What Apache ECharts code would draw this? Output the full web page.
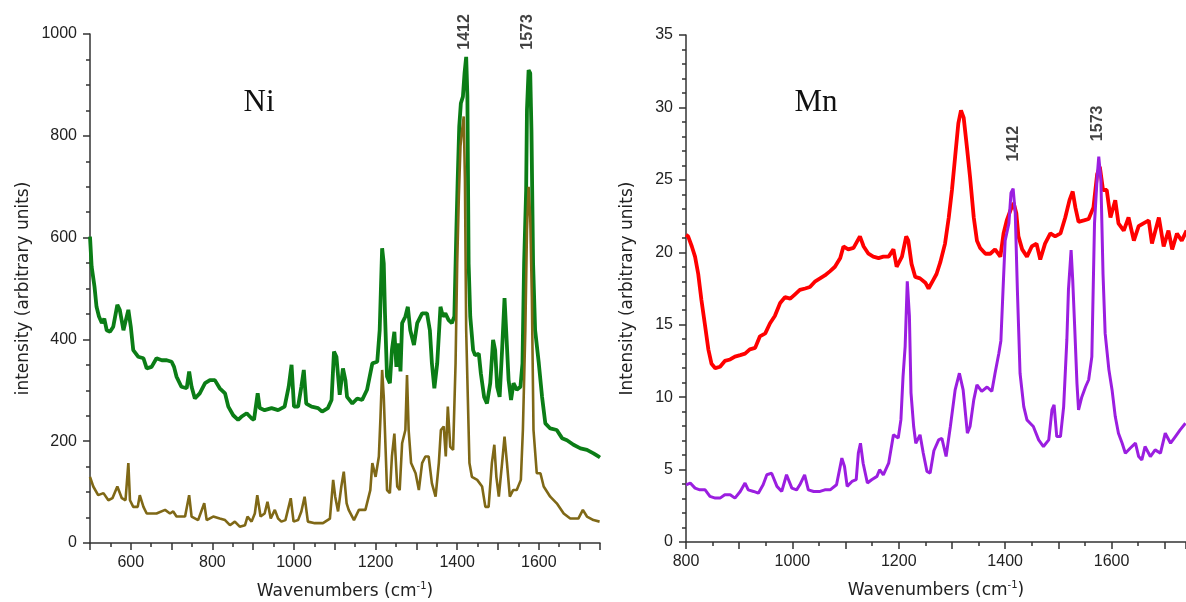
<!DOCTYPE html>
<html><head><meta charset="utf-8">
<script src="https://cdn.jsdelivr.net/npm/echarts@6/dist/echarts.min.js"></script>
<style>html,body{margin:0;padding:0;background:#fff}#c{width:1186px;height:602px}</style>
</head><body><div id="c"></div>
<script>
// ---- Ni panel (wavenumber, intensity) ----
const niUpperWn = [500,504,511,516,522,529,535,541,549,557,567,573,582,587,594,600,606,618,631,639,651,663,676,688,700,706,712,724,737,743,749,757,769,782,794,806,818,831,839,851,863,871,884,896,902,911,916,928,945,961,977,987,994,1000,1010,1018,1024,1030,1043,1059,1069,1083,1092,1098,1104,1112,1120,1126,1130,1143,1155,1167,1179,1192,1204,1210,1216,1220,1223,1228,1235,1240,1246,1251,1257,1261,1265,1273,1279,1285,1294,1302,1314,1326,1333,1338,1344,1351,1359,1365,1371,1379,1387,1393,1398,1401,1405,1409,1414,1418,1422,1425,1428,1432,1439,1444,1453,1458,1466,1473,1481,1488,1493,1498,1504,1510,1516,1520,1526,1532,1538,1546,1555,1560,1564,1569,1571,1575,1579,1582,1586,1591,1600,1608,1616,1628,1644,1657,1669,1685,1702,1718,1734,1746,1750];
const niUpperI = [602,543,504,464,445,432,441,418,415,425,468,458,418,435,458,425,379,366,363,343,346,363,359,359,356,346,327,307,304,337,307,284,294,314,320,320,304,294,268,251,242,248,255,245,242,294,265,261,265,261,268,307,350,268,268,307,340,274,268,265,258,265,281,376,366,291,343,320,287,274,284,281,301,353,356,418,579,549,451,327,314,379,415,346,392,337,432,445,464,418,389,432,451,451,418,353,304,353,464,445,451,438,432,445,615,707,818,864,877,923,955,877,549,445,379,369,372,333,287,274,314,399,379,307,287,379,481,418,320,281,314,301,307,353,549,693,851,929,923,811,549,418,353,287,235,225,222,206,202,193,186,183,176,170,168];
const niLowerWn = [500,508,520,533,545,555,567,578,587,594,598,606,617,622,631,639,663,684,696,704,712,733,743,749,765,780,786,802,818,831,843,855,867,880,886,896,904,910,918,928,935,943,953,961,969,979,992,999,1010,1018,1026,1034,1051,1071,1088,1096,1101,1108,1116,1122,1125,1129,1134,1147,1159,1175,1187,1192,1200,1208,1212,1216,1220,1228,1235,1240,1246,1253,1259,1265,1273,1277,1281,1287,1298,1306,1314,1322,1330,1338,1347,1355,1360,1367,1372,1377,1383,1390,1396,1400,1404,1408,1412,1416,1419,1422,1426,1430,1436,1449,1461,1469,1477,1485,1491,1496,1502,1510,1516,1522,1529,1537,1546,1556,1561,1567,1571,1575,1579,1583,1587,1595,1604,1612,1628,1644,1661,1677,1697,1708,1718,1734,1749];
const niLowerI = [130,111,94,98,84,88,111,88,84,157,84,71,71,94,71,58,58,65,58,62,52,52,94,52,45,78,45,52,48,45,35,42,32,35,52,42,58,94,52,58,81,48,65,48,42,45,88,42,45,62,91,42,39,39,48,124,91,62,111,140,143,78,65,45,65,65,104,157,130,170,248,340,287,104,98,170,215,111,104,196,222,330,222,157,137,104,157,170,170,117,91,157,222,229,170,268,189,183,353,549,680,779,811,838,713,418,287,157,130,124,111,71,71,157,193,130,91,157,209,157,91,104,104,124,222,418,615,700,641,484,222,137,137,111,91,78,58,48,48,65,52,45,42];

// ---- Mn panel ----
const mnUpperWn = [800,804,811,817,823,829,836,842,848,855,864,873,883,892,902,911,920,930,939,949,958,967,977,986,996,1005,1014,1024,1033,1043,1052,1061,1071,1080,1090,1096,1105,1115,1121,1127,1134,1143,1152,1162,1171,1181,1190,1196,1206,1214,1218,1224,1231,1240,1250,1256,1265,1271,1278,1287,1294,1300,1306,1312,1317,1322,1328,1334,1341,1347,1353,1363,1372,1381,1391,1397,1403,1410,1416,1421,1425,1432,1441,1450,1459,1466,1475,1485,1494,1504,1513,1521,1527,1532,1538,1548,1557,1566,1573,1578,1584,1591,1598,1607,1613,1623,1632,1642,1651,1660,1670,1676,1689,1698,1707,1714,1723,1732,1741];
const mnUpperI = [21.2,21.1,20.4,19.7,18.5,16.7,14.9,13.3,12.3,12.0,12.1,12.5,12.6,12.8,12.9,13.0,13.3,13.4,14.2,14.4,15.1,15.6,16.5,16.9,16.8,17.1,17.4,17.5,17.6,18.0,18.2,18.4,18.7,19.0,19.6,20.4,20.2,20.3,20.7,21.1,20.4,19.9,19.7,19.6,19.7,19.7,20.2,19.0,19.7,21.1,20.8,19.2,18.3,18.2,17.9,17.5,18.1,18.5,19.3,20.6,22.4,24.3,26.6,28.9,29.8,29.3,27.3,25.2,22.4,20.8,20.3,19.9,19.9,20.2,19.7,21.3,22.2,22.9,23.4,22.7,21.1,20.2,19.7,20.4,20.6,19.5,20.6,21.3,21.1,21.3,22.4,23.6,24.2,23.1,22.1,22.2,22.3,23.1,25.4,25.9,24.3,24.3,22.4,23.6,22.0,21.5,22.4,20.8,21.8,22.0,22.2,20.6,22.4,20.4,21.5,20.2,21.3,20.8,21.5];
const mnLowerWn = [800,808,817,826,836,845,855,864,873,883,892,902,911,917,927,936,945,952,961,971,980,989,999,1008,1014,1023,1030,1040,1052,1061,1071,1083,1093,1098,1103,1112,1120,1124,1128,1133,1141,1149,1159,1164,1171,1181,1190,1199,1204,1208,1212,1216,1220,1223,1228,1232,1240,1246,1253,1259,1266,1275,1281,1289,1297,1306,1314,1321,1329,1334,1341,1347,1356,1366,1375,1381,1388,1392,1396,1400,1407,1411,1415,1419,1423,1428,1435,1441,1447,1453,1463,1472,1482,1488,1492,1497,1504,1510,1516,1519,1524,1527,1531,1535,1538,1544,1551,1557,1563,1568,1573,1576,1580,1584,1588,1595,1601,1607,1613,1620,1626,1635,1645,1651,1657,1663,1673,1682,1692,1701,1711,1720,1729,1739];
const mnLowerI = [3.95,4.07,3.72,3.6,3.6,3.15,3.03,3.03,3.26,3.26,3.03,3.49,4.07,3.6,3.49,3.37,3.95,4.64,4.75,3.84,3.49,4.64,3.72,3.6,3.95,4.64,3.6,3.49,3.49,3.6,3.6,3.95,5.79,5.21,3.84,4.18,4.3,6.14,6.82,5.44,4.07,4.3,4.53,4.99,4.64,5.44,7.4,7.17,8.43,11.4,13.5,18.0,15.6,10.3,7.97,6.82,7.4,6.14,4.87,4.76,6.3,7.05,7.16,5.9,7.97,10.5,11.65,10.5,7.51,7.97,9.81,10.85,10.4,10.7,10.4,11.65,13.0,13.9,17.4,20.8,22.0,24.1,24.4,22.7,17.4,11.65,9.35,8.43,8.2,7.97,7.05,6.59,7.05,9.12,9.47,7.28,7.28,9.35,13.95,17.4,20.15,18.1,14.6,10.95,9.12,10.0,10.7,11.2,12.8,22.0,25.2,26.6,25.0,18.5,14.4,11.9,10.5,8.66,7.51,6.82,6.13,6.47,6.82,5.9,5.67,6.59,5.9,6.36,6.13,7.51,6.82,7.28,7.74,8.2];

// ---- peak annotations (text, anchor wavenumber, anchor intensity) ----
const peakNames = ['1412', '1573'];
const niPeakWn = [1418.6, 1573];
const niPeakI = [1004, 1004];
const mnPeakWn = [1415, 1573];
const mnPeakI = [27.5, 28.9];

// ---- axis ranges / ticks ----
const niXRange = [500, 1750], niYRange = [0, 1000];
const mnXRange = [800, 1740], mnYRange = [0, 35];

function pairs(x, y) { return x.map((v, i) => [v, y[i]]); }
function peakData(x, y) { return peakNames.map((n, i) => ({ name: n, value: [x[i], y[i]] })); }

const SANS = '"Liberation Sans", Arial, sans-serif';
const NAMEFONT = '"DejaVu Sans", sans-serif';
const axisColor = '#333';
const lineSt = { color: axisColor, width: 1.5 };
const tickLbl = { fontFamily: SANS, fontSize: 16, color: '#222' };
const xName = '{a|Wavenumbers (cm}{s|-1}{a|)}';
const xNameStyle = {
  rich: {
    a: { fontFamily: NAMEFONT, fontSize: 17, color: '#222', lineHeight: 22 },
    s: { fontFamily: NAMEFONT, fontSize: 10, color: '#222', lineHeight: 10, verticalAlign: 'top' }
  }
};

function xAxis(grid, range) {
  return {
    gridIndex: grid, type: 'value', min: range[0], max: range[1], interval: 100,
    axisLine: { show: true, onZero: false, lineStyle: lineSt },
    axisTick: { show: true, length: 7, lineStyle: lineSt },
    minorTick: { show: true, splitNumber: 2, length: 4, lineStyle: lineSt },
    splitLine: { show: false }, minorSplitLine: { show: false },
    axisLabel: Object.assign({}, tickLbl, { margin: 12, formatter: v => (v % 200 === 0 ? String(v) : '') }),
    name: xName, nameLocation: 'middle', nameGap: 38, nameTextStyle: xNameStyle
  };
}
function yAxis(grid, range, interval, minorSplit, name, gap) {
  return {
    gridIndex: grid, type: 'value', min: range[0], max: range[1], interval: interval,
    axisLine: { show: true, onZero: false, lineStyle: lineSt },
    axisTick: { show: true, length: 7, lineStyle: lineSt },
    minorTick: { show: true, splitNumber: minorSplit, length: 4, lineStyle: lineSt },
    splitLine: { show: false }, minorSplitLine: { show: false },
    axisLabel: Object.assign({}, tickLbl, { margin: 13, formatter: v => String(v) }),
    name: name, nameLocation: 'middle', nameGap: gap,
    nameTextStyle: { fontFamily: NAMEFONT, fontSize: 17, color: '#222' }
  };
}
function spectrum(xi, data, color, width) {
  return {
    type: 'line', xAxisIndex: xi, yAxisIndex: xi, data: data, showSymbol: false,
    symbol: 'none', lineStyle: { color: color, width: width }, itemStyle: { color: color },
    silent: true, z: 2
  };
}
function peakLabels(xi, data) {
  return {
    type: 'scatter', xAxisIndex: xi, yAxisIndex: xi, data: data, symbolSize: 1, clip: false,
    itemStyle: { color: 'rgba(0,0,0,0)' }, silent: true, z: 5,
    label: { show: true, position: 'inside', rotate: 90, formatter: '{b}',
      fontFamily: SANS, fontSize: 16, fontWeight: 'bold', color: '#111' }
  };
}

const chart = echarts.init(document.getElementById('c'), null, { renderer: 'canvas' });
chart.setOption({
  animation: false,
  backgroundColor: '#fff',
  grid: [
    { left: 90, top: 34, width: 510, height: 509, containLabel: false, outerBoundsMode: 'none' },
    { left: 686, top: 35, right: 0, height: 507, containLabel: false, outerBoundsMode: 'none' }
  ],
  xAxis: [xAxis(0, niXRange), xAxis(1, mnXRange)],
  yAxis: [
    yAxis(0, niYRange, 200, 4, 'intensity (arbitrary units)', 58),
    yAxis(1, mnYRange, 5, 5, 'Intensity (arbitrary units)', 50)
  ],
  series: [
    spectrum(0, pairs(niUpperWn, niUpperI), '#0b7d16', 3.8),
    spectrum(0, pairs(niLowerWn, niLowerI), '#7f6816', 2.6),
    spectrum(1, pairs(mnUpperWn, mnUpperI), '#ff0000', 3.8),
    spectrum(1, pairs(mnLowerWn, mnLowerI), '#9b1ee0', 3),
    peakLabels(0, peakData(niPeakWn, niPeakI)),
    peakLabels(1, peakData(mnPeakWn, mnPeakI))
  ],
  graphic: [
    { type: 'text', x: 259, y: 103, style: { text: 'Ni', font: '31px "Liberation Serif", serif', fill: '#111', align: 'center', verticalAlign: 'middle' } },
    { type: 'text', x: 816, y: 103, style: { text: 'Mn', font: '31px "Liberation Serif", serif', fill: '#111', align: 'center', verticalAlign: 'middle' } }
  ]
});
</script>
</body></html>
